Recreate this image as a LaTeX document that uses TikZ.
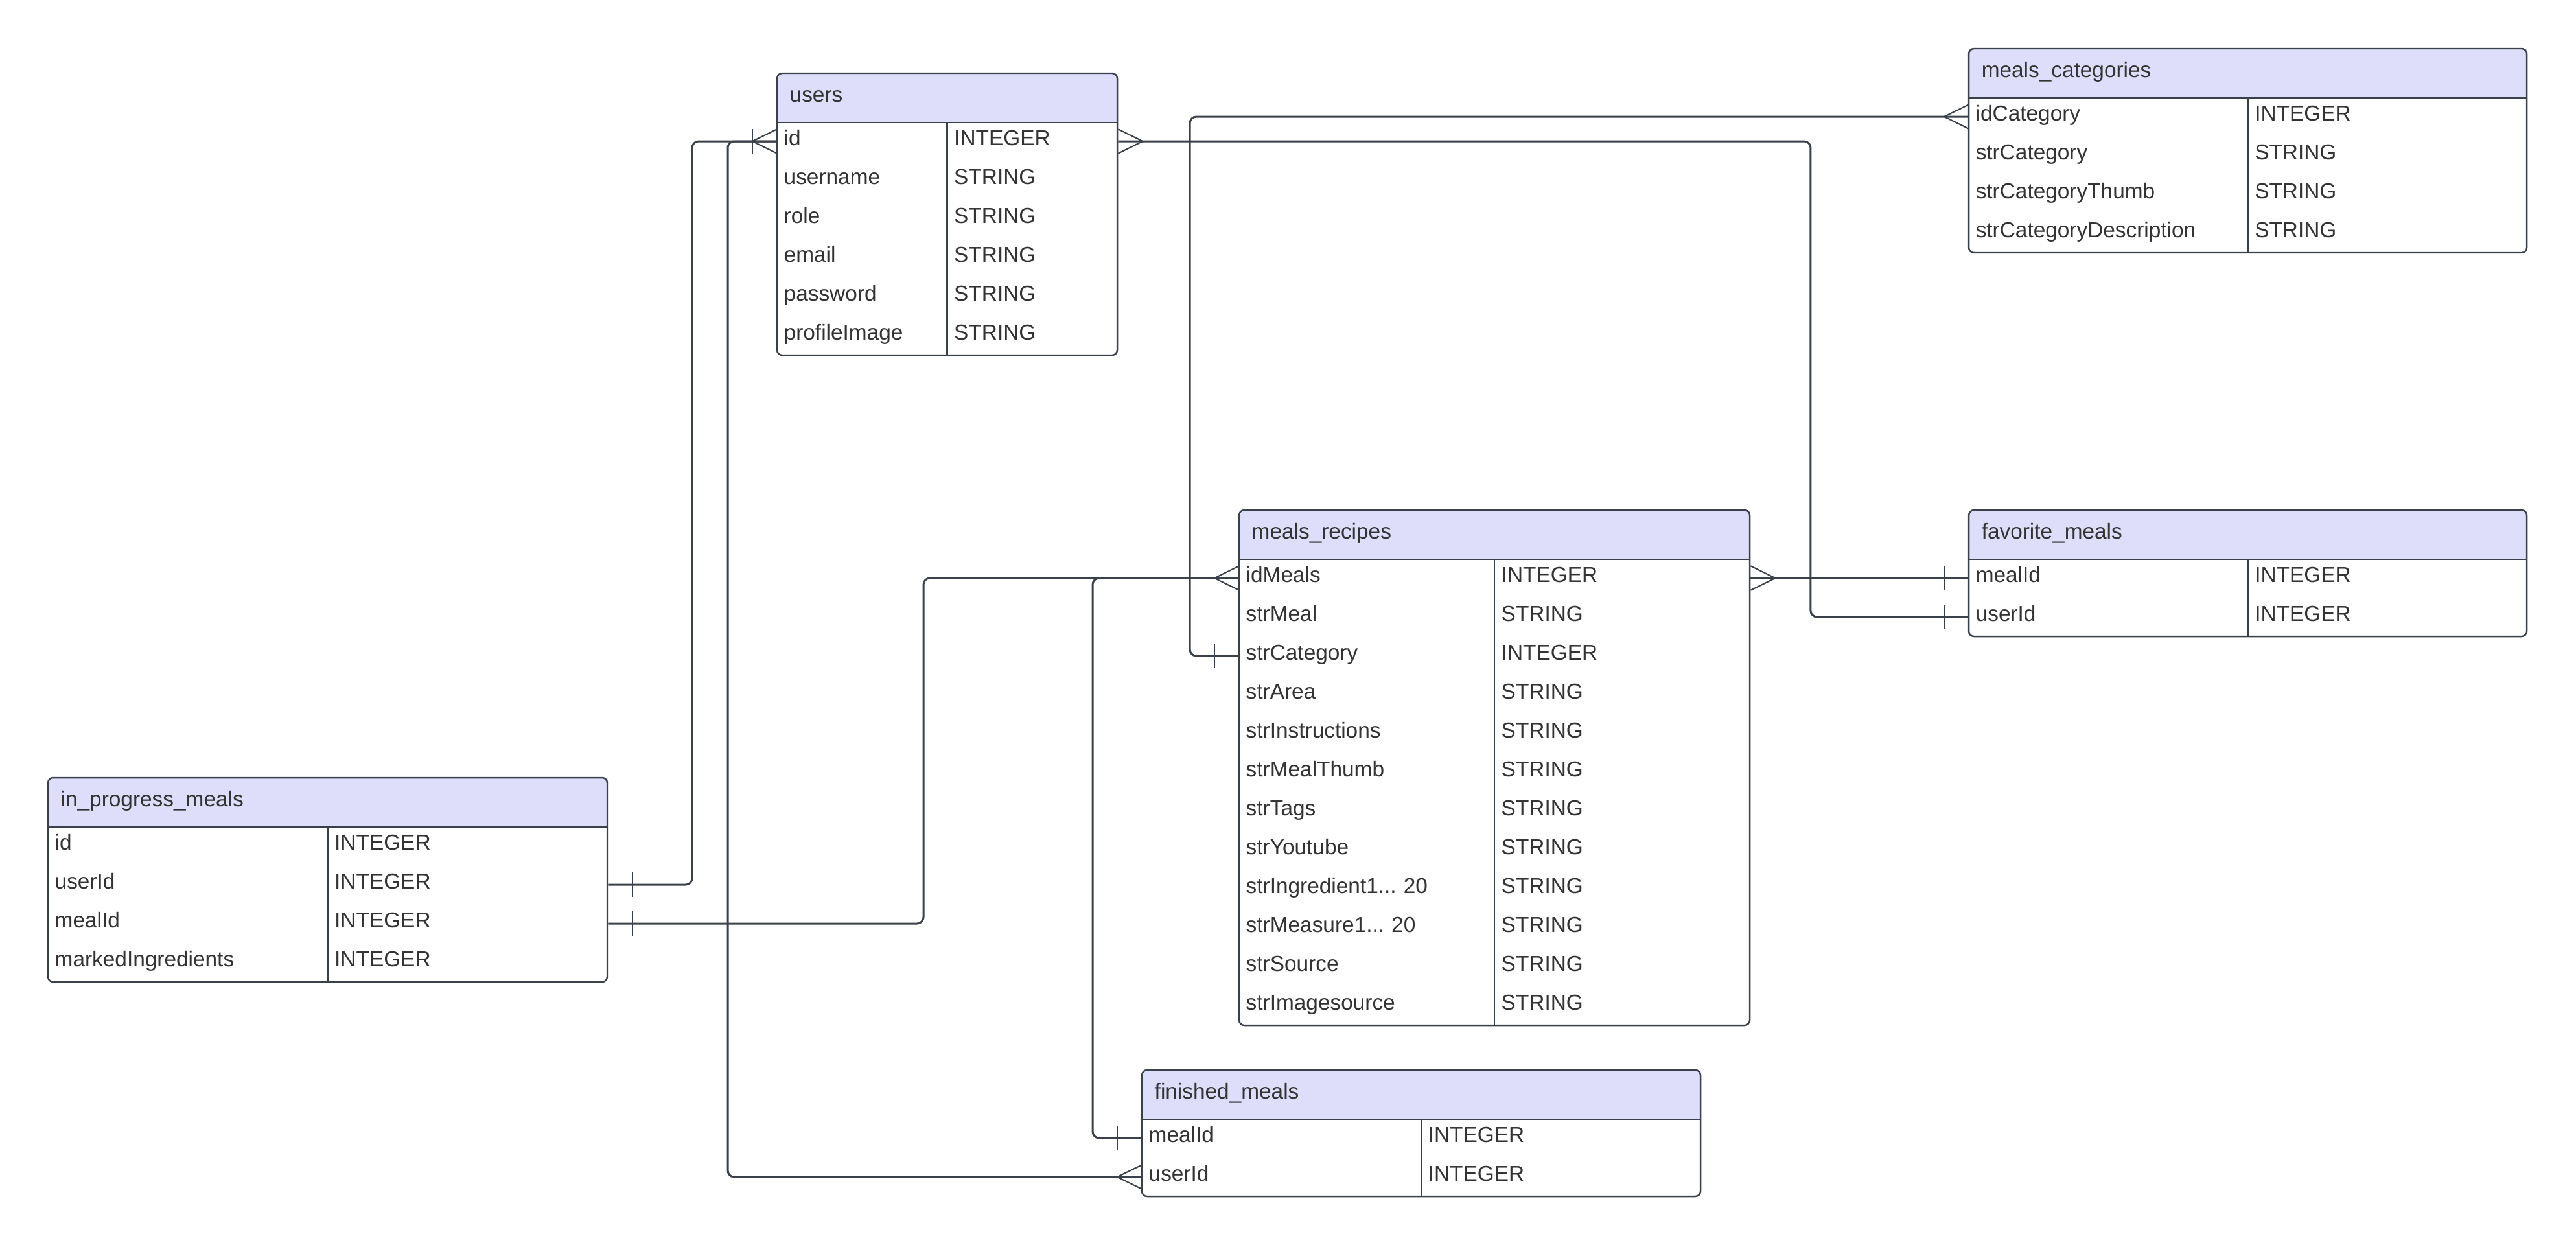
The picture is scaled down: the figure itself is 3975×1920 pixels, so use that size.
\documentclass[tikz,border=0pt]{standalone}
\usepackage{fontspec}
\setmainfont{Liberation Sans}
\frenchspacing
\definecolor{ink}{HTML}{333333}
\definecolor{edge}{HTML}{3A414A}
\definecolor{lavender}{HTML}{DEDEFB}

\begin{document}
\begin{tikzpicture}[x=0.1mm,y=-0.1mm,
  font=\fontsize{9.5}{11}\selectfont,text=ink,
  headbox/.style={anchor=north west,fill=lavender,minimum height=7.5mm,inner sep=0pt},
  headtext/.style={anchor=west,inner xsep=1.9mm,text height=2.2mm,text depth=1mm},
  fieldcell/.style={anchor=west,align=left,inner xsep=1mm,inner ysep=0pt,
    minimum height=6mm,text height=2.2mm,text depth=1mm},
  dtype/.style={anchor=west,inner xsep=1mm,inner ysep=0pt,text height=2.2mm,text depth=1mm},
  tblrule/.style={draw=edge,line width=0.6pt},
  tblframe/.style={draw=edge,line width=0.7pt,rounded corners=0.8mm},
  conn/.style={draw=edge,line width=0.85pt,rounded corners=1mm},
  endline/.style={draw=edge,line width=0.6pt},
  crow/.pic={\draw[endline] (-38,0) -- (0,-18.7) (-38,0) -- (0,18.7);},
  onebar/.pic={\draw[endline] (-38,-18.7) -- (-38,18.7);}]

  \path[fill=white] (0,0) rectangle (3975,1920);

  \begin{scope}[shift={(1199,113)}]
    \node[headbox,minimum width=5.25cm] (users) at (0,0) {};
    \node[headtext] (users-title) at (users.west) {users};
    \foreach \fname/\ftype [count=\i] in {id/INTEGER,username/STRING,role/STRING,
        email/STRING,password/STRING,profileImage/STRING}{
      \node[fieldcell,text width=5.05cm] (users-\i) at (0,{45+60*\i}) {\fname};
      \node[dtype] (users-\i-type) at (262.5,{45+60*\i}) {\ftype};
    }
    \draw[tblrule] (users.south west) -- (users.south east) (262.5,75) -- (262.5,435);
    \draw[tblframe] (0,0) rectangle (525,435);
  \end{scope}

  \begin{scope}[shift={(3038,75)}]
    \node[headbox,minimum width=8.61cm] (categories) at (0,0) {};
    \node[headtext] (categories-title) at (categories.west) {meals\_categories};
    \foreach \fname/\ftype [count=\i] in {idCategory/INTEGER,strCategory/STRING,
        strCategoryThumb/STRING,strCategoryDescription/STRING}{
      \node[fieldcell,text width=8.41cm] (categories-\i) at (0,{45+60*\i}) {\fname};
      \node[dtype] (categories-\i-type) at (430.5,{45+60*\i}) {\ftype};
    }
    \draw[tblrule] (categories.south west) -- (categories.south east) (430.5,75) -- (430.5,315);
    \draw[tblframe] (0,0) rectangle (861,315);
  \end{scope}

  \begin{scope}[shift={(1912,787)}]
    \node[headbox,minimum width=7.88cm] (recipes) at (0,0) {};
    \node[headtext] (recipes-title) at (recipes.west) {meals\_recipes};
    \foreach \fname/\ftype [count=\i] in {idMeals/INTEGER,strMeal/STRING,
        strCategory/INTEGER,strArea/STRING,strInstructions/STRING,strMealThumb/STRING,
        strTags/STRING,strYoutube/STRING,{strIngredient1... 20}/STRING,
        {strMeasure1... 20}/STRING,strSource/STRING,strImagesource/STRING}{
      \node[fieldcell,text width=7.68cm] (recipes-\i) at (0,{45+60*\i}) {\fname};
      \node[dtype] (recipes-\i-type) at (394,{45+60*\i}) {\ftype};
    }
    \draw[tblrule] (recipes.south west) -- (recipes.south east) (394,75) -- (394,795);
    \draw[tblframe] (0,0) rectangle (788,795);
  \end{scope}

  \begin{scope}[shift={(3038,787)}]
    \node[headbox,minimum width=8.61cm] (favorite) at (0,0) {};
    \node[headtext] (favorite-title) at (favorite.west) {favorite\_meals};
    \foreach \fname/\ftype [count=\i] in {mealId/INTEGER,userId/INTEGER}{
      \node[fieldcell,text width=8.41cm] (favorite-\i) at (0,{45+60*\i}) {\fname};
      \node[dtype] (favorite-\i-type) at (430.5,{45+60*\i}) {\ftype};
    }
    \draw[tblrule] (favorite.south west) -- (favorite.south east) (430.5,75) -- (430.5,195);
    \draw[tblframe] (0,0) rectangle (861,195);
  \end{scope}

  \begin{scope}[shift={(74,1200)}]
    \node[headbox,minimum width=8.63cm] (inprog) at (0,0) {};
    \node[headtext] (inprog-title) at (inprog.west) {in\_progress\_meals};
    \foreach \fname/\ftype [count=\i] in {id/INTEGER,userId/INTEGER,mealId/INTEGER,
        markedIngredients/INTEGER}{
      \node[fieldcell,text width=8.43cm] (inprog-\i) at (0,{45+60*\i}) {\fname};
      \node[dtype] (inprog-\i-type) at (431.5,{45+60*\i}) {\ftype};
    }
    \draw[tblrule] (inprog.south west) -- (inprog.south east) (431.5,75) -- (431.5,315);
    \draw[tblframe] (0,0) rectangle (863,315);
  \end{scope}

  \begin{scope}[shift={(1762,1651)}]
    \node[headbox,minimum width=8.62cm] (finished) at (0,0) {};
    \node[headtext] (finished-title) at (finished.west) {finished\_meals};
    \foreach \fname/\ftype [count=\i] in {mealId/INTEGER,userId/INTEGER}{
      \node[fieldcell,text width=8.42cm] (finished-\i) at (0,{45+60*\i}) {\fname};
      \node[dtype] (finished-\i-type) at (431,{45+60*\i}) {\ftype};
    }
    \draw[tblrule] (finished.south west) -- (finished.south east) (431,75) -- (431,195);
    \draw[tblframe] (0,0) rectangle (862,195);
  \end{scope}

  \draw[conn] (inprog-2.east) -| ([xshift=-13.1mm]users-1.west) -- (users-1.west);
  \draw[conn] (finished-2.west) -| ([xshift=-7.6mm]users-1.west) -- (users-1.west);
  \draw[conn] (favorite-2.west) -| ([xshift=106.85mm]users-1.east) -- (users-1.east);
  \draw[conn] (categories-1.west) -| ([xshift=-7.6mm]recipes-3.west) -- (recipes-3.west);
  \draw[conn] (recipes-1.east) -- (favorite-1.west);
  \draw[conn] (inprog-3.east) -| ([xshift=-48.7mm]recipes-1.west) -- (recipes-1.west);
  \draw[conn] (finished-1.west) -| ([xshift=-22.6mm]recipes-1.west) -- (recipes-1.west);

  \pic at (users-1.west) {crow};
  \pic at (users-1.west) {onebar};
  \pic[xscale=-1] at (users-1.east) {crow};
  \pic[xscale=-1] at (inprog-2.east) {onebar};
  \pic[xscale=-1] at (inprog-3.east) {onebar};
  \pic at (finished-1.west) {onebar};
  \pic at (finished-2.west) {crow};
  \pic at (favorite-1.west) {onebar};
  \pic at (favorite-2.west) {onebar};
  \pic at (categories-1.west) {crow};
  \pic at (recipes-1.west) {crow};
  \pic[xscale=-1] at (recipes-1.east) {crow};
  \pic at (recipes-3.west) {onebar};
\end{tikzpicture}
\end{document}
